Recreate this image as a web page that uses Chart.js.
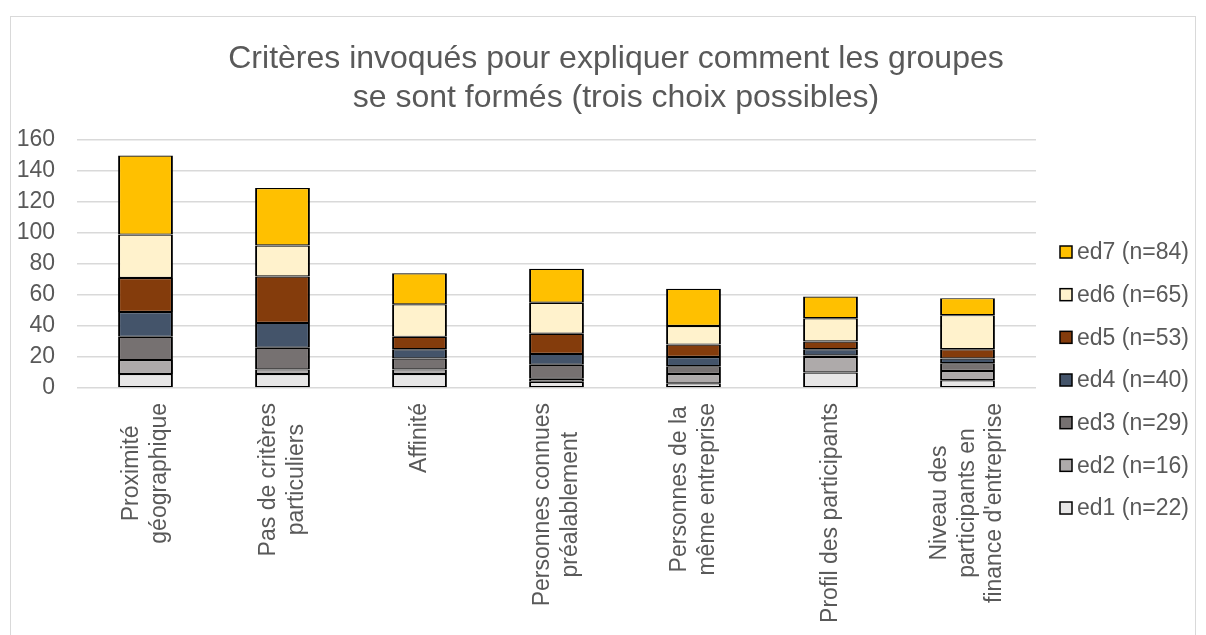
<!DOCTYPE html>
<html lang="fr">
<head>
<meta charset="utf-8">
<title>Critères invoqués pour expliquer comment les groupes se sont formés</title>
<script src="https://cdn.jsdelivr.net/npm/chart.js@4/dist/chart.umd.min.js"></script>
<style>
  html, body { margin: 0; padding: 0; background: #ffffff; }
  #wrap { position: relative; width: 1206px; height: 635px; overflow: hidden; }
  #frame { position: absolute; left: 10px; top: 16px; width: 1186px; height: 640px;
           border: 1px solid #d9d9d9; box-sizing: border-box; pointer-events: none; }
  #box { position: absolute; left: 0; top: 0; width: 1206px; height: 635px; }
</style>
</head>
<body>
<div id="wrap">
  <div id="frame"></div>
  <div id="box"><canvas id="chart"></canvas></div>
</div>
<script>
// Criteria (x categories), one array of lines per label
const categories = [
  ['Proximité', 'géographique'],
  ['Pas de critères', 'particuliers'],
  ['Affinité'],
  ['Personnes connues', 'préalablement'],
  ['Personnes de la', 'même entreprise'],
  ['Profil des participants'],
  ['Niveau des', 'participants en', "finance d'entreprise"]
];

// Number of mentions per cohort
const ed1 = [9, 9, 9, 4, 3, 10, 5];
const ed2 = [9, 3, 3, 2, 6, 10, 6];
const ed3 = [15, 14, 7, 9, 5, 1, 5];
const ed4 = [16, 16, 6, 7, 6, 4, 3];
const ed5 = [22, 30, 8, 13, 8, 5, 6];
const ed6 = [28, 20, 21, 20, 12, 15, 22];
const ed7 = [51, 37, 20, 22, 24, 14, 11];

const seriesLabels = ['ed1 (n=22)', 'ed2 (n=16)', 'ed3 (n=29)', 'ed4 (n=40)', 'ed5 (n=53)', 'ed6 (n=65)', 'ed7 (n=84)'];
const seriesColors = ['#E7E6E6', '#AEAAAA', '#767171', '#44546A', '#843C0C', '#FFF2CC', '#FFC000'];

const titleLines = ['Critères invoqués pour expliquer comment les groupes', 'se sont formés (trois choix possibles)'];
const yMin = 0, yMax = 160, yStep = 20;

const FONT = '"Liberation Sans", Arial, Helvetica, sans-serif';
const TEXT = '#595959';

const seriesData = [ed1, ed2, ed3, ed4, ed5, ed6, ed7];
const datasets = seriesData.map((values, i) => ({
  label: seriesLabels[i],
  data: values,
  backgroundColor: seriesColors[i],
  borderColor: '#000000',
  borderWidth: { left: 2, right: 2, top: 1.2, bottom: 1.2 },
  borderSkipped: false,
  barPercentage: 0.4,
  categoryPercentage: 1.0
}));

// Rotated, centred multi-line category labels under the bars
const categoryLabels = {
  id: 'categoryLabels',
  afterDraw(chart) {
    const ctx = chart.ctx;
    const x = chart.scales.x;
    const top = chart.chartArea.bottom + 15;
    const lh = 27.5;
    ctx.save();
    ctx.font = '23px ' + FONT;
    ctx.fillStyle = TEXT;
    ctx.textAlign = 'center';
    ctx.textBaseline = 'middle';
    categories.forEach((lines, i) => {
      const maxW = Math.max(...lines.map(l => ctx.measureText(l).width));
      const px = x.getPixelForValue(i);
      const cy = top + maxW / 2;
      ctx.save();
      ctx.translate(px, cy);
      ctx.rotate(-Math.PI / 2);
      lines.forEach((line, j) => {
        ctx.fillText(line, 0, (j - (lines.length - 1) / 2) * lh);
      });
      ctx.restore();
    });
    ctx.restore();
  }
};

// Legend on the right, last series on top
const sideLegend = {
  id: 'sideLegend',
  afterDraw(chart) {
    const ctx = chart.ctx;
    const ds = chart.data.datasets;
    const boxX = 1060, textX = 1077, firstY = 252, step = 42.67, size = 12;
    ctx.save();
    ctx.font = '23px ' + FONT;
    ctx.textBaseline = 'middle';
    ctx.textAlign = 'left';
    for (let k = 0; k < ds.length; k++) {
      const d = ds[ds.length - 1 - k];
      const cy = firstY + k * step;
      ctx.fillStyle = d.backgroundColor;
      ctx.fillRect(boxX, cy - size / 2, size, size);
      ctx.strokeStyle = '#000000';
      ctx.lineWidth = 1.5;
      ctx.strokeRect(boxX, cy - size / 2, size, size);
      ctx.fillStyle = TEXT;
      ctx.fillText(d.label, textX, cy + 1);
    }
    ctx.restore();
  }
};

new Chart(document.getElementById('chart'), {
  type: 'bar',
  data: { labels: categories.map(l => l.join(' ')), datasets },
  options: {
    responsive: true,
    maintainAspectRatio: false,
    animation: false,
    layout: { padding: { left: 12, right: -14, top: 0, bottom: 0 } },
    plugins: {
      legend: { display: false },
      tooltip: { enabled: false },
      title: {
        display: true,
        text: titleLines,
        color: TEXT,
        font: { family: FONT, size: 32, weight: 'normal', lineHeight: 1.22 },
        padding: { top: 40, bottom: 22 }
      }
    },
    scales: {
      x: {
        stacked: true,
        ticks: { display: false },
        grid: { display: false },
        border: { display: false },
        afterFit(scale) { scale.height = 247; }
      },
      y: {
        stacked: true,
        min: yMin,
        max: yMax,
        ticks: { stepSize: yStep, padding: 22, color: TEXT, font: { family: FONT, size: 23 } },
        grid: { color: '#d9d9d9', lineWidth: 1.4, drawTicks: false },
        border: { display: false },
        afterFit(scale) { scale.width = 65; }
      },
      side: {
        type: 'linear',
        position: 'right',
        display: true,
        ticks: { display: false },
        grid: { display: false },
        border: { display: false },
        afterFit(scale) { scale.width = 184; }
      }
    }
  },
  plugins: [categoryLabels, sideLegend]
});
</script>
</body>
</html>
